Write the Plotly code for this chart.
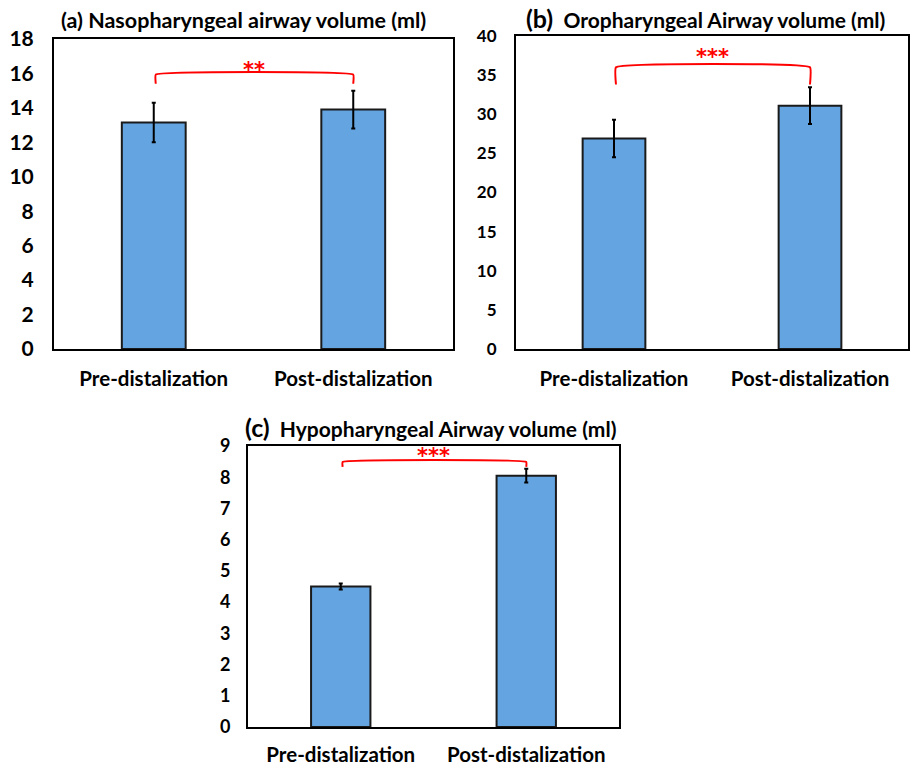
import plotly.graph_objects as go

categories = ["Pre-distalization", "Post-distalization"]

naso_vals = [13.15, 13.9]
naso_err = [1.15, 1.1]
oro_vals = [26.9, 31.1]
oro_err = [2.4, 2.35]
hypo_vals = [4.5, 8.05]
hypo_err = [0.1, 0.22]

titles = ["<b>(a) Nasopharyngeal airway volume (ml)</b>",
          "<b><span style='font-size:25px'>(b)</span>  Oropharyngeal Airway volume (ml)</b>",
          "<b><span style='font-size:25px'>(c)</span>  Hypopharyngeal Airway volume (ml)</b>"]
stars = ["**", "***", "***"]
bracket_top = [15.93, 36.0, 8.49]
bracket_leg = [15.4, 33.8, 8.33]
y_max = [18, 40, 9]
y_dtick = [2, 5, 1]

FONT = "Lato"
BAR_COLOR = "#63A4E1"
RED = "#FF0000"

panels = [
    dict(vals=naso_vals, err=naso_err, xd=[54/910, 453/910], yd=[1-349/767, 1-39/767],
         tickfont=21, xfont=20.5, ystand=14, xstand=10, title_xy=(243, 20), tsize=21.5, sshift=-9),
    dict(vals=oro_vals, err=oro_err, xd=[516/910, 908/910], yd=[1-349/767, 1-36/767],
         tickfont=17, xfont=20.5, ystand=14, xstand=10, title_xy=(705, 18), tsize=21, sshift=-4),
    dict(vals=hypo_vals, err=hypo_err, xd=[248/910, 619/910], yd=[1-727/767, 1-446/767],
         tickfont=18, xfont=20.5, ystand=12, xstand=8, title_xy=(430, 427), tsize=21, sshift=-8),
]

fig = go.Figure()
layout = dict(width=910, height=767, margin=dict(l=0, r=0, t=0, b=0, pad=0, autoexpand=False),
              paper_bgcolor="white", plot_bgcolor="white", showlegend=False,
              font=dict(family=FONT, color="black"))
annotations = []

for i, p in enumerate(panels):
    sfx = "" if i == 0 else str(i + 1)
    xa = "x" + sfx
    ya = "y" + sfx
    fig.add_trace(go.Bar(
        x=[0, 1], y=p["vals"], width=0.32, xaxis=xa, yaxis=ya,
        marker=dict(color=BAR_COLOR, line=dict(color="#1a1a1a", width=2)),
        error_y=dict(type="data", array=p["err"], color="black", thickness=2, width=2),
    ))
    fig.add_trace(go.Scatter(
        x=[0.01, 0.01, 1.0, 1.0],
        y=[bracket_leg[i], bracket_top[i], bracket_top[i], bracket_leg[i]],
        mode="lines", line=dict(color=RED, width=2, shape="spline", smoothing=0.3),
        xaxis=xa, yaxis=ya, hoverinfo="skip",
    ))
    annotations.append(dict(
        x=0.5, y=bracket_top[i], xref=xa, yref=ya, text="<b>" + stars[i] + "</b>",
        showarrow=False, yanchor="bottom", yshift=p["sshift"],
        font=dict(family="DejaVu Sans", size=21, color=RED),
    ))
    annotations.append(dict(
        x=p["title_xy"][0] / 910, y=1 - p["title_xy"][1] / 767, xref="paper", yref="paper",
        text=titles[i], showarrow=False, xanchor="center", yanchor="middle",
        font=dict(family=FONT, size=p["tsize"], color="black"),
    ))
    layout["xaxis" + sfx] = dict(
        domain=p["xd"], range=[-0.5, 1.5], anchor=ya,
        tickvals=[0, 1], ticktext=["<b>%s</b>" % c for c in categories],
        tickfont=dict(size=p["xfont"], family=FONT, color="black"),
        showline=True, linecolor="black", linewidth=2, mirror=True,
        showgrid=False, zeroline=False, ticks="", ticklabelstandoff=p["xstand"],
        fixedrange=True, automargin=False,
    )
    layout["yaxis" + sfx] = dict(
        domain=p["yd"], range=[0, y_max[i]], anchor=xa, dtick=y_dtick[i],
        tickfont=dict(size=p["tickfont"], family=FONT, color="black", weight="bold"),
        showline=True, linecolor="black", linewidth=2, mirror=True,
        showgrid=False, zeroline=False, ticks="", ticklabelstandoff=p["ystand"],
        fixedrange=True, automargin=False,
    )

layout["annotations"] = annotations
fig.update_layout(**layout)
fig.write_html("out.html", config={"displayModeBar": False},
               post_script="document.body.style.margin='0';document.body.style.overflow='hidden';")
